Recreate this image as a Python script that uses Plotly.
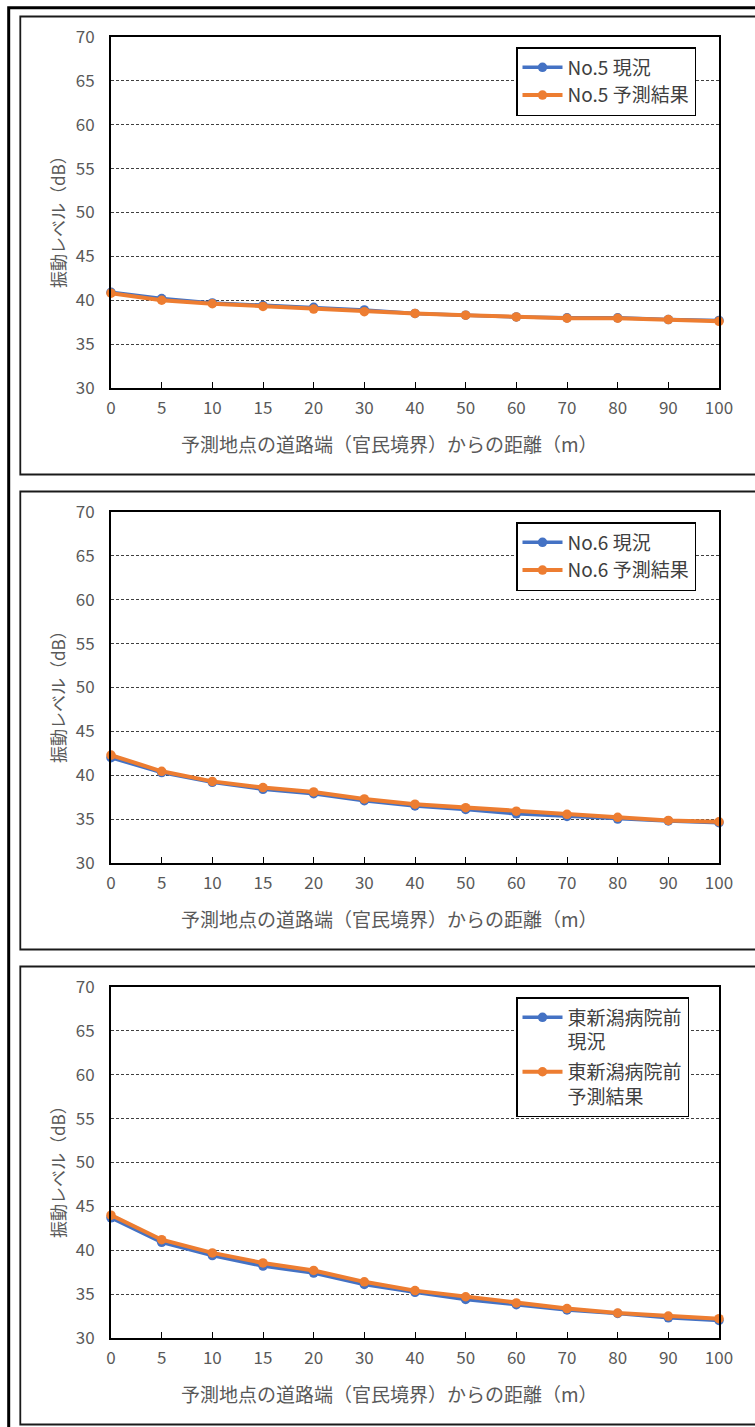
import plotly.graph_objects as go

# ---------------- data ----------------
distances = ["0", "5", "10", "15", "20", "30", "40", "50", "60", "70", "80", "90", "100"]

no5_current = [40.9, 40.2, 39.7, 39.4, 39.2, 38.9, 38.5, 38.3, 38.1, 38.0, 38.0, 37.8, 37.7]
no5_forecast = [40.8, 40.0, 39.6, 39.3, 39.0, 38.7, 38.5, 38.3, 38.1, 37.95, 37.95, 37.8, 37.6]

no6_current = [42.0, 40.3, 39.2, 38.4, 37.9, 37.1, 36.5, 36.1, 35.6, 35.3, 35.0, 34.8, 34.6]
no6_forecast = [42.3, 40.45, 39.3, 38.6, 38.1, 37.3, 36.7, 36.3, 35.9, 35.55, 35.2, 34.85, 34.7]

hosp_current = [43.7, 40.9, 39.4, 38.2, 37.4, 36.1, 35.2, 34.4, 33.8, 33.2, 32.8, 32.3, 32.0]
hosp_forecast = [44.0, 41.2, 39.7, 38.55, 37.7, 36.4, 35.4, 34.7, 34.0, 33.35, 32.85, 32.5, 32.2]

names_current = ["No.5 現況", "No.6 現況", "東新潟病院前<br>現況"]
names_forecast = ["No.5 予測結果", "No.6 予測結果", "東新潟病院前<br>予測結果"]

y_ticks = [30, 35, 40, 45, 50, 55, 60, 65, 70]
x_title = "予測地点の道路端（官民境界）からの距離（m）"
y_title = "振動レベル（dB）"

# ---------------- layout helpers ----------------
W, H = 755, 1427
FONT = "Noto Sans CJK JP"
GRAY = "#595959"
BLUE = "#4472C4"
ORANGE = "#ED7D31"


def px(x):
    return x / W


def py(y):
    return 1 - y / H


panel_offsets = [0, 475, 950]
series = [
    (no5_current, no5_forecast),
    (no6_current, no6_forecast),
    (hosp_current, hosp_forecast),
]

fig = go.Figure()
layout = dict(
    template="none",
    width=W,
    height=H,
    autosize=False,
    margin=dict(l=0, r=0, t=0, b=0, pad=0, autoexpand=False),
    paper_bgcolor="white",
    plot_bgcolor="white",
    font=dict(family=FONT, color=GRAY),
    showlegend=True,
    hovermode=False,
)

shapes = []
annotations = []

# outer frame
shapes.append(dict(type="rect", xref="paper", yref="paper",
                   x0=px(8.7), x1=px(800), y0=py(7.8), y1=py(1500),
                   line=dict(color="black", width=3), fillcolor="rgba(0,0,0,0)"))

for i, off in enumerate(panel_offsets):
    sfx = "" if i == 0 else str(i + 1)
    xa = "x" + sfx
    ya = "y" + sfx
    lg = "legend" + sfx
    cur, fc = series[i]

    fig.add_trace(go.Scatter(
        x=distances, y=cur, name=names_current[i], mode="lines+markers",
        line=dict(color=BLUE, width=3.5), marker=dict(size=9.5, color=BLUE),
        xaxis=xa, yaxis=ya, legend=lg, legendgroup="c%d" % i, cliponaxis=False))
    fig.add_trace(go.Scatter(
        x=distances, y=fc, name=names_forecast[i], mode="lines+markers",
        line=dict(color=ORANGE, width=4), marker=dict(size=9.5, color=ORANGE),
        xaxis=xa, yaxis=ya, legend=lg, legendgroup="f%d" % i, cliponaxis=False))

    top = 37 + off
    bot = 388 + off
    layout["xaxis" + sfx] = dict(
        domain=[px(111), px(719)], anchor=ya, type="category",
        range=[0, len(distances) - 1], automargin=False,
        showline=True, linecolor="black", linewidth=2, mirror=True,
        ticks="inside", ticklen=6, tickcolor="black", tickwidth=1.3,
        showgrid=False, zeroline=False,
        tickfont=dict(family=FONT, size=17, color=GRAY),
        ticklabelstandoff=4,
    )
    layout["yaxis" + sfx] = dict(
        domain=[py(bot), py(top)], anchor=xa,
        range=[30, 70], tickvals=y_ticks, automargin=False,
        showline=True, linecolor="black", linewidth=2, mirror=True,
        ticks="", showgrid=True, gridcolor="#404040", gridwidth=1,
        griddash="3px,2px", zeroline=False,
        tickfont=dict(family=FONT, size=17, color=GRAY),
        ticklabelstandoff=11,
    )

    # legend
    layout[lg] = dict(
        x=px(516), y=py(47 + off), xanchor="left", yanchor="top",
        xref="paper", yref="paper",
        bordercolor="black", borderwidth=1.5, bgcolor="white",
        font=dict(family=FONT, size=19, color="#404040"),
        tracegroupgap=0 if i < 2 else 2, itemwidth=40, valign="top",
    )

    # panel frame
    p_top = 16.5 + off
    p_bot = 474.5 + off
    shapes.append(dict(type="rect", xref="paper", yref="paper",
                       x0=px(20.3), x1=px(790), y0=py(p_bot), y1=py(p_top),
                       line=dict(color="#1a1a1a", width=1.8), fillcolor="rgba(0,0,0,0)"))

    # axis titles
    annotations.append(dict(text=x_title, xref="paper", yref="paper",
                            x=px(389), y=py(443 + off), xanchor="center", yanchor="middle",
                            showarrow=False, font=dict(family=FONT, size=19, color=GRAY)))
    annotations.append(dict(text=y_title, xref="paper", yref="paper",
                            x=px(57), y=py(218 + off), xanchor="center", yanchor="middle",
                            textangle=-90, showarrow=False,
                            font=dict(family=FONT, size=17, color=GRAY)))

layout["shapes"] = shapes
layout["annotations"] = annotations
fig.update_layout(**layout)

fig.write_html(
    "out.html",
    config={"displayModeBar": False, "responsive": False},
    post_script=(
        "document.documentElement.style.margin='0';"
        "document.body.style.margin='0';"
        "document.body.style.overflow='hidden';"
        "var d=document.getElementById('{plot_id}');"
        "d.style.position='absolute';d.style.left='0px';d.style.top='0px';"
    ),
)
